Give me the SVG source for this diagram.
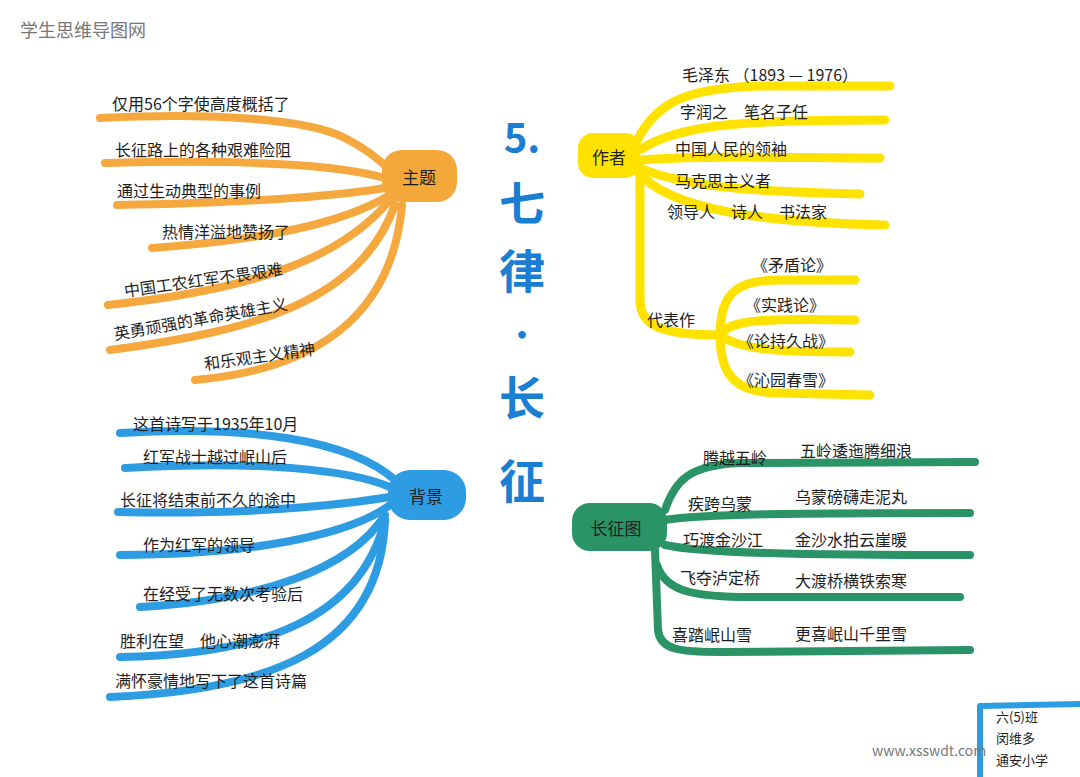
<svg xmlns="http://www.w3.org/2000/svg" width="1080" height="777" viewBox="0 0 1080 777">
<style>
.t{font-family:"Noto Sans CJK SC","Noto Sans",sans-serif;font-size:16px;fill:#1e1e1e}
.n{font-family:"Noto Sans CJK SC","Noto Sans",sans-serif;font-size:17px;fill:#1e1e1e;text-anchor:middle;dominant-baseline:central}
.c{fill:none;stroke-linecap:round;stroke-linejoin:round}
.o{stroke:#f4a83e;stroke-width:8}
.y{stroke:#ffe200;stroke-width:9}
.b{stroke:#2d9ce2;stroke-width:8}
.g{stroke:#2a9467;stroke-width:8}
.ti{font-family:"Noto Sans CJK SC",sans-serif;fill:#1a7ed2;text-anchor:middle;font-weight:bold}
.wm{font-family:"Noto Sans CJK SC","Liberation Sans",sans-serif;fill:#777}
.s{font-family:"Noto Sans CJK SC","Noto Sans",sans-serif;font-size:13px;fill:#1e1e1e}
</style>
<rect width="1080" height="777" fill="#fff"/>
<text class="wm" x="20" y="37" font-size="18">学生思维导图网</text>
<g id="connectors">
<path class="c o" d="M100,118 C220,112 310,120 345,138 C368,150 380,160 390,170"/>
<path class="c o" d="M105,163 C220,160 330,162 385,178"/>
<path class="c o" d="M117,205 C230,203 330,197 385,188"/>
<path class="c o" d="M152,248 C260,240 340,225 390,195"/>
<path class="c o" d="M108,305 C250,290 340,260 390,200"/>
<path class="c o" d="M110,350 C260,330 360,300 395,205"/>
<path class="c o" d="M195,380 C310,370 392,320 402,205"/>
<path class="c y" d="M635,145 C655,100 690,88 760,86 L890,86"/>
<path class="c y" d="M640,150 C680,122 760,120 885,120"/>
<path class="c y" d="M640,160 C700,155 800,158 880,158"/>
<path class="c y" d="M640,168 C690,190 780,192 860,194"/>
<path class="c y" d="M638,172 C670,210 760,222 885,225"/>
<path class="c y" d="M640,175 L640,300 C640,325 660,335 720,335"/>
<path class="c y" d="M720,335 C720,290 740,280 780,280 L855,280"/>
<path class="c y" d="M720,335 C730,320 760,318 855,320"/>
<path class="c y" d="M720,335 C740,350 780,352 850,352"/>
<path class="c y" d="M720,335 C720,380 740,393 780,393 L870,395"/>
<path class="c b" d="M120,433 C250,425 350,440 395,480"/>
<path class="c b" d="M125,468 C260,460 350,470 390,487"/>
<path class="c b" d="M118,512 C250,515 340,505 390,497"/>
<path class="c b" d="M120,555 C250,555 350,535 390,505"/>
<path class="c b" d="M140,607 C260,600 350,570 385,515"/>
<path class="c b" d="M120,657 C260,655 360,620 385,520"/>
<path class="c b" d="M110,697 C270,690 380,650 385,520"/>
<path class="c g" d="M665,510 C675,480 690,465 740,463 L975,462"/>
<path class="c g" d="M665,520 C700,514 800,513 970,513"/>
<path class="c g" d="M665,545 C700,553 800,555 970,555"/>
<path class="c g" d="M655,550 L658,630 C660,650 680,652 720,652 L970,650"/>
<path class="c g" d="M657,565 C665,590 690,596 740,597 L960,597"/>
</g>
<g id="title">
<text class="ti" x="522" y="152" font-size="40">5.</text>
<text class="ti" x="522" y="220" font-size="46">七</text>
<text class="ti" x="522" y="288" font-size="46">律</text>
<text class="ti" x="522" y="346" font-size="30">·</text>
<text class="ti" x="522" y="415" font-size="46">长</text>
<text class="ti" x="522" y="498" font-size="46">征</text>
</g>
<g id="node-theme">
<rect x="382" y="150" width="75" height="52" rx="20" fill="#f5a83a"/>
<text class="n" x="419" y="176">主题</text>
</g>
<g id="theme-items">
<text class="t" x="112" y="110">仅用56个字使高度概括了</text>
<text class="t" x="115" y="156">长征路上的各种艰难险阻</text>
<text class="t" x="117" y="197">通过生动典型的事例</text>
<text class="t" x="162" y="238">热情洋溢地赞扬了</text>
<text class="t" x="125" y="297" transform="rotate(-8 125 297)">中国工农红军不畏艰难</text>
<text class="t" x="115" y="340" transform="rotate(-10 115 340)">英勇顽强的革命英雄主义</text>
<text class="t" x="205" y="370" transform="rotate(-8 205 370)">和乐观主义精神</text>
</g>
<g id="node-author">
<rect x="578" y="133" width="62" height="45" rx="15" fill="#ffe200"/>
<text class="n" x="609" y="156">作者</text>
</g>
<g id="author-items">
<text class="t" x="682" y="81">毛泽东 （1893 — 1976）</text>
<text class="t" x="680" y="118">字润之　笔名子任</text>
<text class="t" x="675" y="155">中国人民的领袖</text>
<text class="t" x="675" y="187">马克思主义者</text>
<text class="t" x="667" y="218">领导人　诗人　书法家</text>
<text class="t" x="647" y="326">代表作</text>
<text class="t" x="752" y="271">《矛盾论》</text>
<text class="t" x="745" y="311">《实践论》</text>
<text class="t" x="738" y="347">《论持久战》</text>
<text class="t" x="738" y="386">《沁园春雪》</text>
</g>
<g id="node-background">
<rect x="388" y="470" width="78" height="50" rx="22" fill="#2d9ce2"/>
<text class="n" x="426" y="495">背景</text>
</g>
<g id="background-items">
<text class="t" x="133" y="430">这首诗写于1935年10月</text>
<text class="t" x="143" y="463">红军战士越过岷山后</text>
<text class="t" x="120" y="506">长征将结束前不久的途中</text>
<text class="t" x="143" y="551">作为红军的领导</text>
<text class="t" x="143" y="600">在经受了无数次考验后</text>
<text class="t" x="120" y="647">胜利在望　他心潮澎湃</text>
<text class="t" x="115" y="687">满怀豪情地写下了这首诗篇</text>
</g>
<g id="node-march">
<rect x="572" y="503" width="95" height="48" rx="18" fill="#2a9467"/>
<text class="n" x="616" y="527">长征图</text>
</g>
<g id="march-items">
<text class="t" x="703" y="464">腾越五岭</text>
<text class="t" x="800" y="457">五岭逶迤腾细浪</text>
<text class="t" x="688" y="510">疾跨乌蒙</text>
<text class="t" x="795" y="503">乌蒙磅礴走泥丸</text>
<text class="t" x="683" y="546">巧渡金沙江</text>
<text class="t" x="795" y="546">金沙水拍云崖暖</text>
<text class="t" x="680" y="584">飞夺泸定桥</text>
<text class="t" x="795" y="587">大渡桥横铁索寒</text>
<text class="t" x="672" y="641">喜踏岷山雪</text>
<text class="t" x="795" y="640">更喜岷山千里雪</text>
</g>
<g id="signature">
<path class="c" d="M980,777 L980,706 L1080,704" stroke="#2d9ce2" stroke-width="6"/>
<text class="s" x="996" y="722">六(5)班</text>
<text class="s" x="996" y="743">闵维多</text>
<text class="s" x="996" y="765">通安小学</text>
</g>
<text class="wm" x="872" y="756" font-size="14">www.xsswdt.com</text>
</svg>
